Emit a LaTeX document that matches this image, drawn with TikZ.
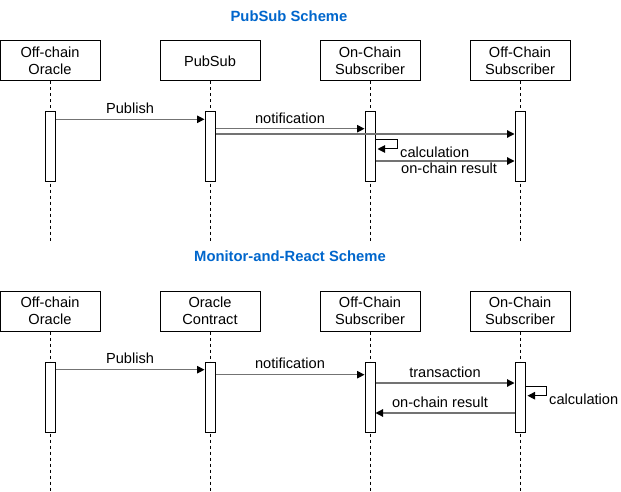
\documentclass[tikz,border=0pt]{standalone}
\usepackage{fontspec}
\setmainfont{Liberation Sans}
\usetikzlibrary{positioning,calc}
\usetikzlibrary{arrows.meta}
\definecolor{titleblue}{RGB}{0,102,204}

\tikzset{
    actor/.style = {draw, line width = 1pt, minimum width = 100pt, minimum height = 40pt, inner sep = 0pt, align = center, font = \fontsize{14.6}{17.5}\selectfont},
    bar/.style = {draw, line width = 1pt, fill = white, minimum width = 10pt, minimum height = 70pt, inner sep = 0pt},
    life/.style = {line width = 0.8pt, dash pattern = on 3pt off 3pt},
    msg/.style = {->, draw = black!55, line width = 1.2pt},
    selfloop/.style = {->, draw = black, line width = 1pt},
    lbl/.style = {font = \fontsize{14.6}{17}\selectfont, inner sep = 0pt},
    scheme/.style = {font = \fontsize{14.8}{17}\selectfont\bfseries, text = titleblue},
}

\begin{document}
\begin{tikzpicture}[x = 1pt, y = -1pt, >={Triangle[length = 7.5pt, width = 7.5pt, color = black]}]
    \useasboundingbox (0, 0) rectangle (621, 492);

    % PubSub scheme
    \node [scheme] (t1) at (289, 16) {PubSub Scheme};

    \node [actor] (a1) at (50, 61) {Off-chain\\Oracle};
    \node [actor] (a2) at (210, 61) {PubSub};
    \node [actor] (a3) at (370, 61) {On-Chain\\Subscriber};
    \node [actor] (a4) at (520, 61) {Off-Chain\\Subscriber};

    \foreach \nn in {1, ..., 4}{
        \coordinate (e\nn) at ($(a\nn.south) + (0, 159)$);
        \draw [life] (a\nn.south) -- (e\nn);
        \node [bar] (b\nn) at ($(a\nn.south) + (0, 65)$) {};
    }

    \draw [msg] ($(b1.north east) + (0, 8.3)$) -- ($(b2.north west) + (0, 8.3)$)
        node [lbl, midway, above = 5pt] {Publish};
    \draw [msg] ($(b2.north east) + (0, 17.7)$) -- ($(b3.north west) + (0, 17.7)$)
        node [lbl, midway, above = 4.5pt] {notification};
    \draw [msg] ($(b2.north east) + (0, 23)$) -- ($(b4.north west) + (0, 23)$);
    \draw [selfloop] ($(b3.north east) + (0, 28.7)$) -- ++(21.7, 0) -- ++(0, 9.3) -- ($(b3.north east) + (2, 38)$);
    \node [lbl, anchor = west] (c1) at (400, 152) {calculation};
    \draw [msg] ($(b3.north east) + (0, 50)$) -- ($(b4.north west) + (0, 50)$);
    \node [lbl, anchor = west] (r1) at (401, 168) {on-chain result};

    % Monitor-and-React scheme
    \node [scheme] (t2) at (290, 256) {Monitor-and-React Scheme};

    \node [actor] (m1) at (50, 311) {Off-chain\\Oracle};
    \node [actor] (m2) at (210, 311) {Oracle\\Contract};
    \node [actor] (m3) at (370, 311) {Off-Chain\\Subscriber};
    \node [actor] (m4) at (520, 311) {On-Chain\\Subscriber};

    \foreach \nn in {1, ..., 4}{
        \coordinate (f\nn) at ($(m\nn.south) + (0, 159)$);
        \draw [life] (m\nn.south) -- (f\nn);
        \node [bar] (d\nn) at ($(m\nn.south) + (0, 65.5)$) {};
    }

    \draw [msg] ($(d1.north east) + (0, 8.2)$) -- ($(d2.north west) + (0, 8.2)$)
        node [lbl, midway, above = 5pt] {Publish};
    \draw [msg] ($(d2.north east) + (0, 13.2)$) -- ($(d3.north west) + (0, 13.2)$)
        node [lbl, midway, above = 5pt] {notification};
    \draw [msg] ($(d3.north east) + (0, 21.5)$) -- ($(d4.north west) + (0, 21.5)$)
        node [lbl, midway, above = 5pt] {transaction};
    \draw [selfloop] ($(d4.north east) + (0, 25.2)$) -- ++(20.7, 0) -- ++(0, 9) -- ($(d4.north east) + (2, 34.2)$);
    \node [lbl, anchor = west] (c2) at (549, 399) {calculation};
    \draw [msg] ($(d4.north west) + (0, 51.5)$) -- ($(d3.north east) + (0, 51.5)$)
        node [lbl, midway, above = 5pt, xshift = -5pt] {on-chain result};

\end{tikzpicture}
\end{document}
